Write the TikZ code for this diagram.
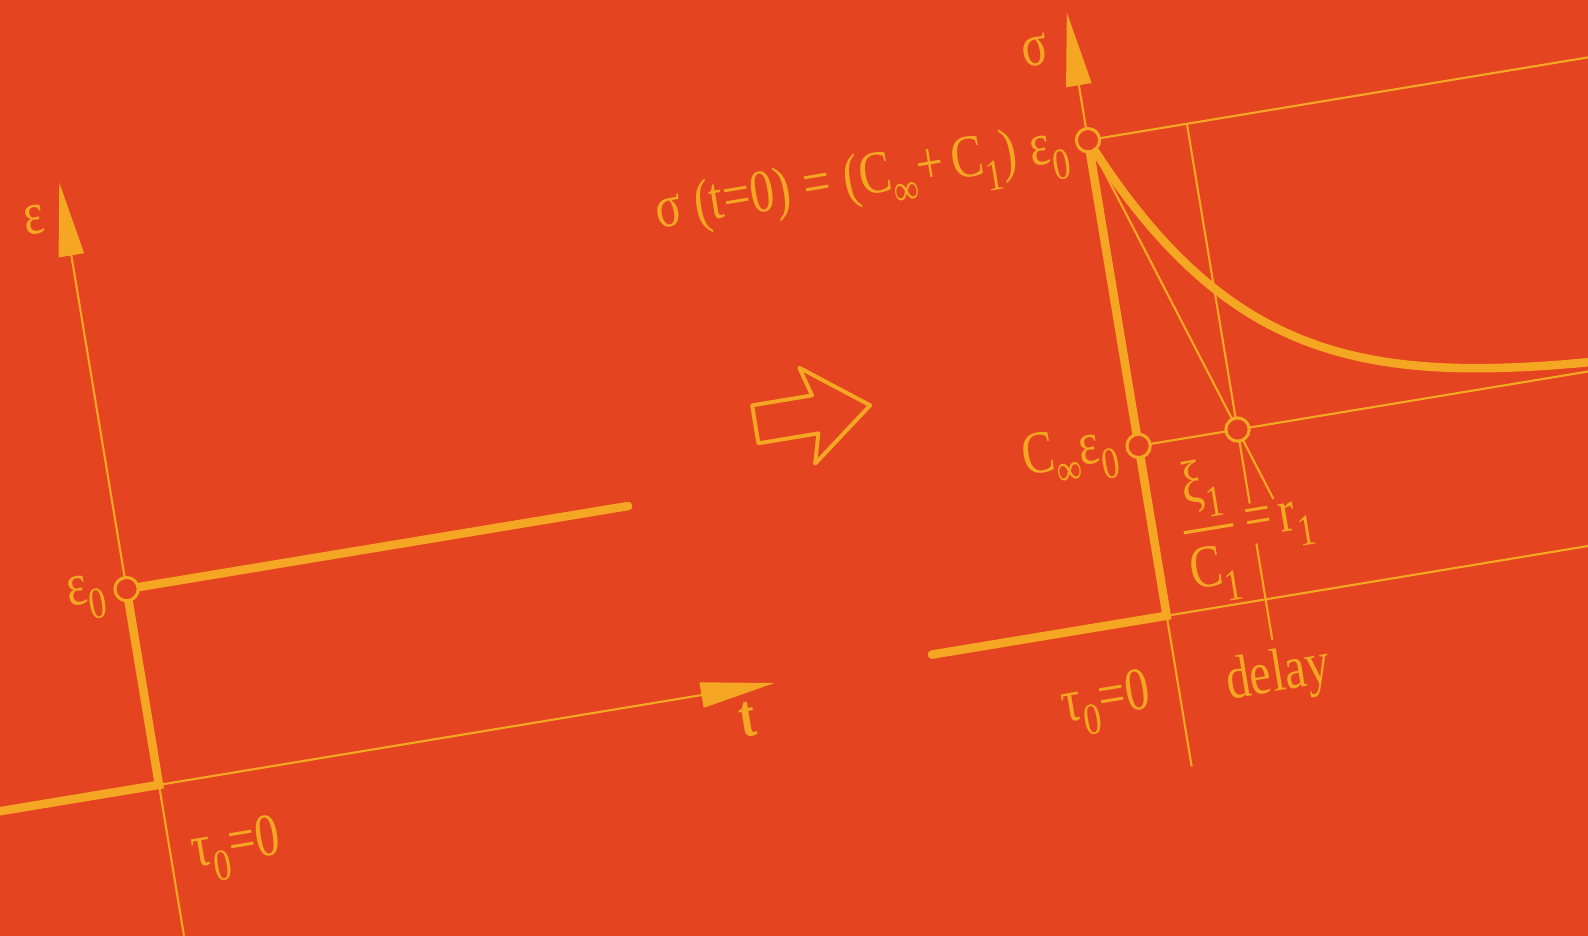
\documentclass[tikz,border=0pt]{standalone}
\usepackage{fontspec}
\setmainfont{Liberation Serif}
\usetikzlibrary{arrows.meta,calc}
\definecolor{Brick}{HTML}{E4441F}
\definecolor{Amber}{HTML}{F5A623}
\newcommand\lo[1]{\raisebox{-0.28em}{\fontsize{12.5}{13}\selectfont #1}}

\begin{document}
\begin{tikzpicture}[
    heavy/.style={draw=Amber,line width=2.4pt,line cap=round},
    fine/.style={draw=Amber,line width=0.6pt},
    axis/.style={fine,-{Triangle[length=7.3mm,width=2.5mm]}},
    knot/.style={circle,draw=Amber,fill=Brick,line width=0.85pt,minimum size=2.3mm,inner sep=0pt},
    lab/.style={text=Amber,font=\fontsize{17}{19}\selectfont,inner sep=0pt,rotate=9.4,xscale=0.8}]
  \fill[Brick] (0,0) rectangle (15.68,9.24);
  \useasboundingbox (0,0) rectangle (15.68,9.24);
  \clip (0,0) rectangle (15.68,9.24);
  % strain history
  \begin{scope}[shift={(15.7mm,14.9mm)},rotate=9.4,x=0.1mm,y=0.1mm]
    \coordinate (o1) at (0,0);
    \coordinate (e0) at (0,196);
    \draw[heavy] (-200,0) -- (o1) -- (e0) -- (502,196);
    \draw[axis] (o1) -- (616,0);
    \draw[fine] (o1) -- (0,-151);
    \draw[axis] (e0) -- (0,603);
    \node[knot] (k-e0) at (e0) {};
    \node[lab] (epsL) at (-31,570) {ε};
    \node[lab] (eps0L) at (-40,194) {ε\lo{0}};
    \node[lab,font=\fontsize{17}{19}\selectfont\bfseries] (tL) at (584,-31) {t};
    \node[lab] (tau0L) at (65,-75) {τ\lo{0}=0};
  \end{scope}
  % hollow arrow
  \begin{scope}[shift={(80mm,51.4mm)},rotate=9.4,x=0.1mm,y=0.1mm]
    \draw[fine,line width=1.1pt,line join=round]
      (-55,19) -- (5,19) -- (-3,48) -- (60,0) -- (-3,-48) -- (5,-19) -- (-55,-19) -- cycle;
  \end{scope}
  % stress response
  \begin{scope}[shift={(115.2mm,31.6mm)},rotate=9.4,x=0.1mm,y=0.1mm]
    \coordinate (o2) at (0,0);
    \coordinate (p0) at (0,476);
    \coordinate (pc) at (0,170);
    \coordinate (q1) at (99,170);
    \draw[fine] (o2) -- (440,0);
    \draw[fine] (o2) -- (0,-151);
    \draw[fine] (p0) -- (520,476);
    \draw[fine] (pc) -- (470,170);
    \draw[fine] (99,476) -- (99,96);
    \draw[fine] (99,56) -- (99,-41);
    \draw[fine] (p0) -- ($(p0)!1.24!(q1)$);
    \draw[axis] (p0) -- (0,604);
    \draw[heavy] (-235,0) -- (o2) -- (p0);
    \draw[heavy] plot[domain=0:470,samples=80] (\x,{170+306*exp(-\x/128)});
    \foreach \k in {p0,pc,q1} \node[knot] (k-\k) at (\k) {};
    \node[lab] (sig) at (-37,572) {σ};
    \node[lab,anchor=east] (sig0) at (-20,471) {σ\;(t=0)\;=\;(C\lo{∞}+\,C\lo{1})\;ε\lo{0}};
    \node[lab] (cinf) at (-68,171) {C\lo{∞}ε\lo{0}};
    \node[lab] (ratio) at (93,76) {$\displaystyle{\mbox{ξ\lo{1}}\above 0.9pt\mbox{C\lo{1}}}$\,=\,r\lo{1}};
    \node[lab] (delay) at (99,-77) {delay};
    \node[lab] (tau0R) at (-73,-76) {τ\lo{0}=0};
  \end{scope}
\end{tikzpicture}
\end{document}
